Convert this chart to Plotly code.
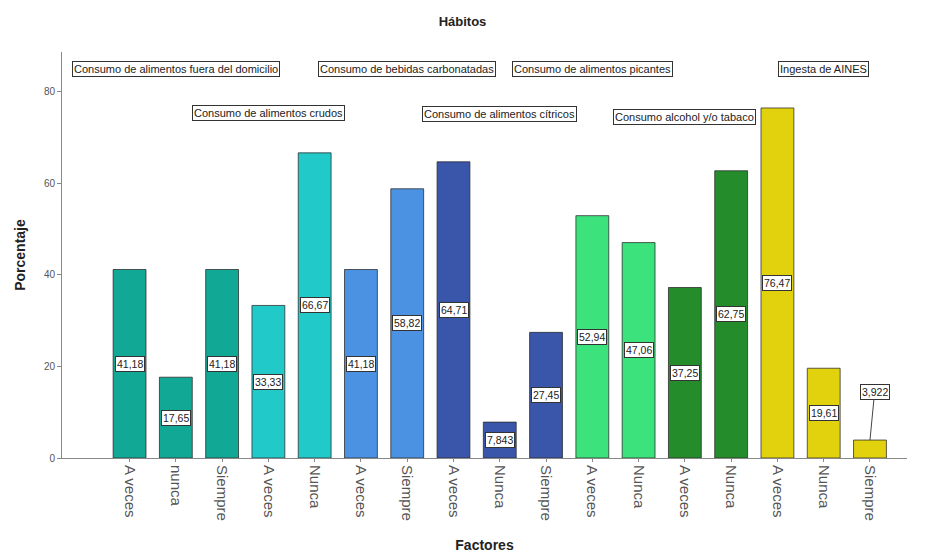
import plotly.graph_objects as go

categories = ["A veces", "nunca", "Siempre", "A veces", "Nunca", "A veces", "Siempre",
              "A veces", "Nunca", "Siempre", "A veces", "Nunca", "A veces", "Nunca",
              "A veces", "Nunca", "Siempre"]
values = [41.18, 17.65, 41.18, 33.33, 66.67, 41.18, 58.82, 64.71, 7.843, 27.45,
          52.94, 47.06, 37.25, 62.75, 76.47, 19.61, 3.922]
value_labels = ["41,18", "17,65", "41,18", "33,33", "66,67", "41,18", "58,82", "64,71",
                "7,843", "27,45", "52,94", "47,06", "37,25", "62,75", "76,47", "19,61", "3,922"]
groups = ["Consumo de alimentos fuera del domicilio", "Consumo de alimentos crudos",
          "Consumo de bebidas carbonatadas", "Consumo de alimentos cítricos",
          "Consumo de alimentos picantes", "Consumo alcohol y/o tabaco", "Ingesta de AINES"]
group_of_bar = [0, 0, 0, 1, 1, 2, 2, 3, 3, 3, 4, 4, 5, 5, 6, 6, 6]
group_colors = ["#12a896", "#22c9c9", "#4b92e2", "#3a56aa", "#3ce27c", "#248c2a", "#e2d20e"]
# label placement for each group box (bar index, y value)
group_label_pos = [(1, 85.0), (3, 75.4), (6, 85.0), (8, 75.2), (10, 85.0), (12, 74.6), (15, 85.0)]

FONT = "Liberation Sans, Arial, sans-serif"
xs = list(range(len(values)))

fig = go.Figure()
fig.add_trace(go.Bar(
    x=xs, y=values,
    width=0.71,
    marker=dict(color=[group_colors[g] for g in group_of_bar],
                line=dict(color="rgba(40,40,40,0.75)", width=1)),
    hoverinfo="skip",
))

annotations = []
for i, (v, lab) in enumerate(zip(values, value_labels)):
    if v < 5:
        annotations.append(dict(
            x=i, y=v, ax=i + 0.1, ay=14.4, axref="x", ayref="y", xref="x", yref="y",
            text=lab, showarrow=True, arrowhead=0, arrowwidth=1, arrowcolor="#444",
            standoff=0, startstandoff=0,
            font=dict(family=FONT, size=10.5, color="#222"),
            bgcolor="white", bordercolor="#333", borderwidth=1, borderpad=1))
    else:
        annotations.append(dict(
            x=i, y=v / 2, xref="x", yref="y", text=lab, showarrow=False,
            font=dict(family=FONT, size=10.5, color="#222"),
            bgcolor="white", bordercolor="#333", borderwidth=1, borderpad=1))

for name, (bx, by) in zip(groups, group_label_pos):
    annotations.append(dict(
        x=bx, y=by, xref="x", yref="y", text=name, showarrow=False,
        font=dict(family=FONT, size=11, color="#222"),
        bgcolor="white", bordercolor="#333", borderwidth=1, borderpad=1))

fig.update_layout(
    width=925, height=558,
    paper_bgcolor="white", plot_bgcolor="white",
    margin=dict(l=62, r=18, t=52, b=100),
    showlegend=False,
    title=dict(text="<b>Hábitos</b>", x=0.5, xanchor="center", y=0.962, yanchor="middle",
               font=dict(family=FONT, size=13, color="#222")),
    font=dict(family=FONT, color="#222"),
    annotations=annotations,
    bargap=0.29,
)
fig.update_xaxes(
    range=[-1.46, 16.8],
    automargin=False,
    tickmode="array", tickvals=xs, ticktext=categories,
    tickangle=90,
    tickfont=dict(family=FONT, size=15, color="#555"),
    showline=True, linecolor="#888", linewidth=1,
    ticks="outside", ticklen=3, tickcolor="#888",
    showgrid=False, zeroline=False,
    title=dict(text="<b>Factores</b>", font=dict(family=FONT, size=14, color="#222"), standoff=20),
)
fig.update_yaxes(
    range=[0, 88.7],
    automargin=False,
    tickvals=[0, 20, 40, 60, 80],
    tickfont=dict(family=FONT, size=10, color="#555"),
    showline=True, linecolor="#888", linewidth=1,
    ticks="outside", ticklen=4, tickcolor="#888",
    showgrid=False, zeroline=False,
    title=dict(text="<b>Porcentaje</b>", font=dict(family=FONT, size=14, color="#222"), standoff=14),
)

fig.write_html("out.html")
